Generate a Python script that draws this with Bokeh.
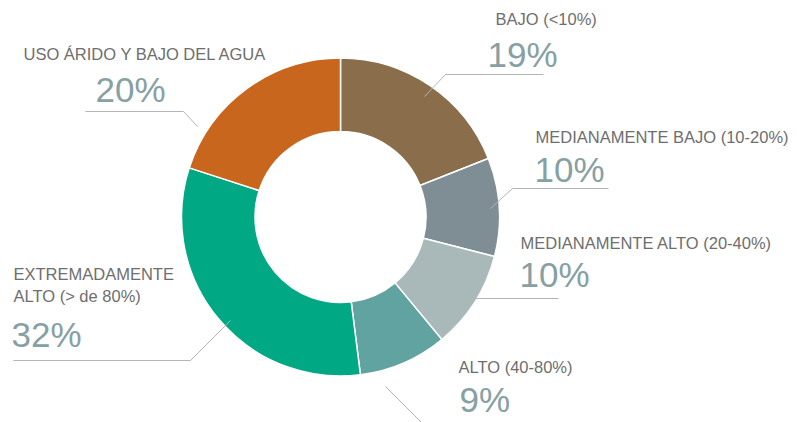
from bokeh.plotting import figure
from bokeh.models import Range1d, ColumnDataSource
from bokeh.core.properties import value
from bokeh.embed import file_html
from bokeh.resources import INLINE
import numpy as np

# ---- data ----
categories = ["BAJO (<10%)", "MEDIANAMENTE BAJO (10-20%)", "MEDIANAMENTE ALTO (20-40%)",
              "ALTO (40-80%)", "EXTREMADAMENTE\nALTO (> de 80%)", "USO ÁRIDO Y BAJO DEL AGUA"]
shares = [19, 10, 10, 9, 32, 20]
pct_labels = ["19%", "10%", "10%", "9%", "32%", "20%"]
colors = ["#8A6E4B", "#7F8E94", "#A9B8B9", "#61A3A0", "#00A984", "#C8661E"]

W, H = 797, 422
LBL_SIZE = 16.5
PCT_SIZE = 35

def X(x):
    return x

def Y(y):
    return H - y

p = figure(width=W, height=H, output_backend="svg", toolbar_location=None,
           x_range=Range1d(0, W), y_range=Range1d(0, H), min_border=0)
p.axis.visible = False
p.grid.visible = False
p.outline_line_color = None
p.background_fill_color = "white"

# donut
vals = np.array(shares, dtype=float)
frac = vals / vals.sum()
cum = np.concatenate([[0], np.cumsum(frac)])
start = np.pi / 2 - cum[:-1] * 2 * np.pi
end = np.pi / 2 - cum[1:] * 2 * np.pi
src = ColumnDataSource(dict(start=start, end=end, color=colors, cat=categories))
cx, cy = X(340), Y(216.5)
p.annular_wedge(x=cx, y=cy, inner_radius=85.5, outer_radius=159,
                start_angle="start", end_angle="end", direction="clock",
                fill_color="color", line_color="white", line_width=1.5, source=src)

# leader lines (image coords)
leaders = [
    [(424, 96), (445, 74), (543, 74)],
    [(490, 208), (512, 188), (608, 188)],
    [(462, 298), (558, 298)],
    [(385, 386), (430, 431)],
    [(230, 320), (190, 360), (13, 360)],
    [(197, 126), (183, 111), (85, 111)],
]
p.multi_line(xs=[[X(a) for a, b in L] for L in leaders],
             ys=[[Y(b) for a, b in L] for L in leaders],
             line_color="#B4B4B4", line_width=1)

# category labels (left x, baseline y, image coords)
label_pos = [(495, 25), (535, 143), (520, 249), (458, 373), (13, 280), (23, 60)]
pct_pos = [(487, 67), (534, 182), (519, 287), (459, 412), (11, 347), (95, 102)]

def base(y, size):
    # compensate renderer baseline offset
    return Y(y - 0.37 * size)

lx, ly, lt = [], [], []
for cat, (x, y) in zip(categories, label_pos):
    for i, line in enumerate(cat.split("\n")):
        lx.append(X(x)); ly.append(base(y + i * 22, LBL_SIZE)); lt.append(line)
p.text(x=lx, y=ly, text=lt, text_font=value("Liberation Sans"), text_font_size=f"{LBL_SIZE}px",
       text_color="#6E6E6E", text_align="left", text_baseline="alphabetic")

p.text(x=[X(x) for x, y in pct_pos], y=[base(y, PCT_SIZE) for x, y in pct_pos], text=pct_labels,
       text_font=value("Liberation Sans"), text_font_size=f"{PCT_SIZE}px",
       text_color="#87A0A4", text_align="left", text_baseline="alphabetic")

open("out.html", "w").write(file_html(p, INLINE))
